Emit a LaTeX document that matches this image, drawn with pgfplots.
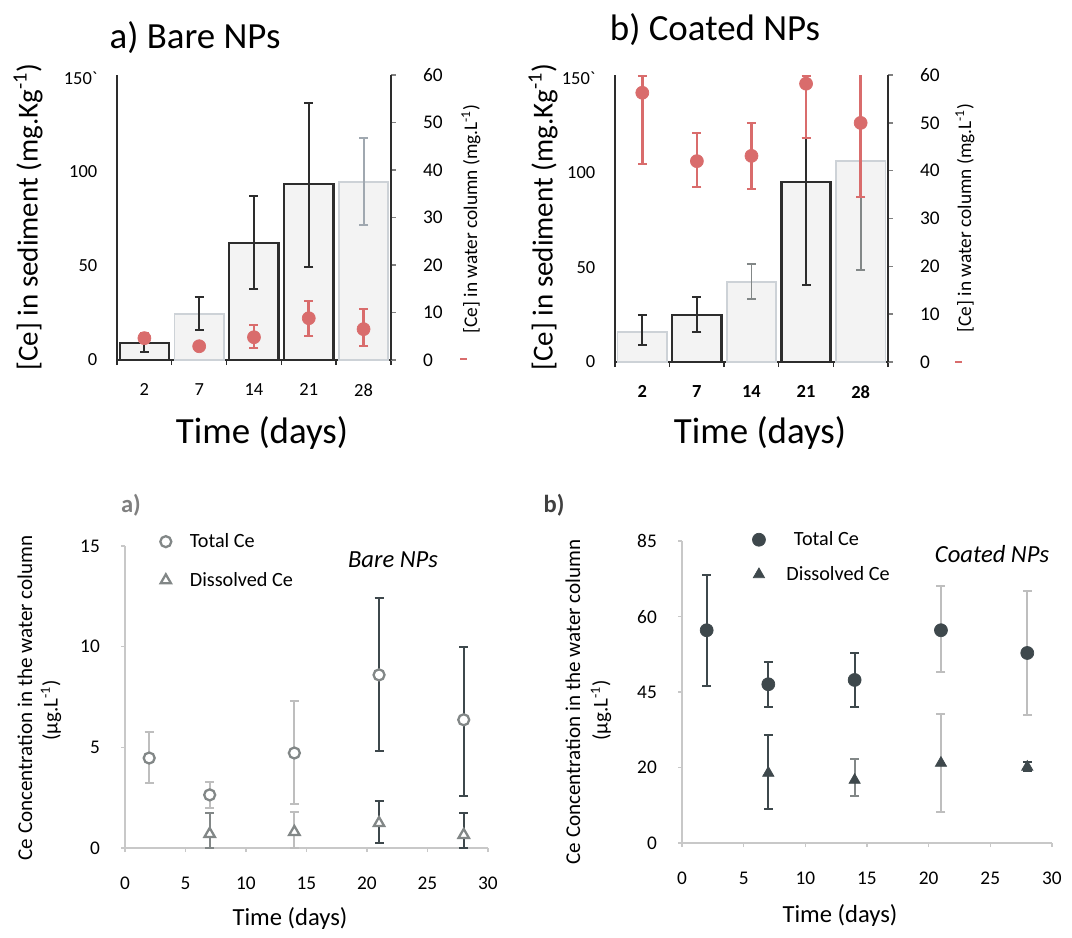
\documentclass[border=0pt]{standalone}
\usepackage{pgfplots}
\pgfplotsset{compat=1.18}
\usepackage{fontspec}
\setmainfont{Carlito}
\definecolor{redpt}{RGB}{217,108,108}
\definecolor{barfill}{RGB}{243,243,243}
\definecolor{darkln}{RGB}{45,45,45}
\definecolor{lightln}{RGB}{205,210,215}
\definecolor{errlight}{RGB}{160,168,176}
\definecolor{ptdark}{RGB}{62,72,76}
\definecolor{glight}{RGB}{190,190,190}
\definecolor{gmid}{RGB}{130,135,135}
\definecolor{axgray}{RGB}{200,200,200}
\pgfplotsset{
  topleft/.style={scale only axis, anchor=south west,
    xmin=-0.5, xmax=4.5, ymin=0, ymax=151.5,
    axis x line*=bottom, axis y line*=left,
    axis line style={darkln, line width=1.3pt},
    xtick={0,...,4}, xticklabels={2,7,14,21,28},
    major x tick style={draw=none},
    minor xtick={-0.5,0.5,1.5,2.5,3.5,4.5},
    minor x tick style={darkln, line width=0.8pt},
    minor tick length=0.1cm, tick align=outside,
    ytick={0,50,100,150}, yticklabels={0,50,100,150\textasciigrave},
    major y tick style={draw=none},
    /pgf/number format/assume math mode=true,
    yticklabel style={font=\fontsize{10.5}{12}\selectfont, xshift=-0.12cm},
    xticklabel style={font=\fontsize{10.5}{12}\selectfont, yshift=-0.2cm},
  },
  topright/.style={scale only axis, anchor=south west,
    xmin=-0.5, xmax=4.5, ymin=0, ymax=60,
    axis x line=none, axis y line*=right,
    axis line style={darkln, line width=1.3pt},
    ytick={0,10,...,60}, tick align=outside, major tick length=0.1cm,
    ytick style={gray, line width=0.8pt},
    /pgf/number format/assume math mode=true,
    yticklabel style={font=\fontsize{11}{13}\selectfont, xshift=0.42cm},
  },
  bot/.style={scale only axis, anchor=south west,
    xmin=0, xmax=30, ymin=0,
    axis x line*=bottom, axis y line*=left,
    axis line style={axgray, line width=0.8pt},
    xtick={0,5,...,30}, tick align=outside, major tick length=0.08cm,
    tick style={axgray, line width=0.8pt},
    /pgf/number format/assume math mode=true,
    xticklabel style={font=\fontsize{11}{13}\selectfont, yshift=-0.38cm},
    yticklabel style={font=\fontsize{11}{13}\selectfont, xshift=-0.3cm},
  },
  eb/.style={draw=none, mark=none, forget plot,
    error bars/.cd, y dir=both, y explicit,
    error bar style={draw=#1, line width=1.1pt},
    error mark options={draw=#1, line width=1.1pt, mark size=0.09cm, rotate=90}},
}
\begin{document}
\begin{tikzpicture}
\begin{scope}[x=0.02cm, y=-0.02cm]
\useasboundingbox (0,0) rectangle (1072,937);
\end{scope}

% ---------------- panel a (top left) ----------------
\begin{axis}[topleft, at={(117*0.02cm,-360*0.02cm)}, width=5.48cm, height=5.7cm]
\addplot[ybar, bar shift=0pt, bar width=0.9, fill=barfill, draw=darkln, line width=1.3pt]
  coordinates {(0,9.0) (2,62.2) (3,93.6)};
\addplot[ybar, bar shift=0pt, bar width=0.9, fill=barfill, draw=lightln, line width=0.8pt]
  coordinates {(1,24.5) (4,94.6)};
\addplot[eb=darkln] coordinates {
  (0,9.0) += (0,5.0) -= (0,4.5)
  (1,24.5) += (0,9.0) -= (0,8.5)
  (2,62.2) += (0,25.0) -= (0,24.5)
  (3,93.6) += (0,43.0) -= (0,44.2)};
\addplot[eb=errlight] coordinates {(4,94.6) += (0,23.4) -= (0,22.8)};
\end{axis}
\begin{axis}[topright, at={(117*0.02cm,-360*0.02cm)}, width=5.48cm, height=5.7cm]
\addplot[only marks, mark=*, mark size=0.13cm, redpt,
  error bars/.cd, y dir=both, y explicit,
  error bar style={redpt, line width=1.5pt},
  error mark options={redpt, line width=1.2pt, mark size=0.09cm, rotate=90}]
  coordinates {
  (0,4.6) += (0,1.1) -= (0,1.0)
  (1,2.9) += (0,0) -= (0,0)
  (2,4.8) += (0,2.6) -= (0,2.3)
  (3,8.8) += (0,3.6) -= (0,3.8)
  (4,6.5) += (0,4.2) -= (0,3.6)};
\end{axis}

% ---------------- panel b (top right) ----------------
\begin{axis}[topleft, at={(615*0.02cm,-362*0.02cm)}, width=5.46cm, height=5.74cm,
  xticklabel style={font=\fontsize{10.5}{12}\selectfont\bfseries}]
\addplot[ybar, bar shift=0pt, bar width=0.9, fill=barfill, draw=darkln, line width=1.3pt]
  coordinates {(1,24.8) (3,95.0)};
\addplot[ybar, bar shift=0pt, bar width=0.9, fill=barfill, draw=lightln, line width=0.8pt]
  coordinates {(0,15.8) (2,42.2) (4,106.1)};
\addplot[eb=darkln] coordinates {
  (0,15.8) += (0,9.0) -= (0,6.8)
  (1,24.8) += (0,9.5) -= (0,9.0)
  (3,95.0) += (0,23.3) -= (0,54.3)};
\addplot[eb=gmid] coordinates {
  (2,42.2) += (0,9.5) -= (0,8.9)
  (4,106.1) += (0,54.0) -= (0,57.5)};
\end{axis}
\begin{axis}[topright, at={(615*0.02cm,-362*0.02cm)}, width=5.46cm, height=5.74cm]
\addplot[only marks, mark=*, mark size=0.13cm, redpt,
  error bars/.cd, y dir=both, y explicit,
  error bar style={redpt, line width=1.5pt},
  error mark options={redpt, line width=1.2pt, mark size=0.09cm, rotate=90}]
  coordinates {
  (0,56.3) += (0,3.5) -= (0,14.9)
  (1,42.0) += (0,5.9) -= (0,5.4)
  (2,43.1) += (0,6.9) -= (0,6.9)
  (3,58.2) += (0,1.6) -= (0,11.3)
  (4,50.0) += (0,15.0) -= (0,15.5)};
\end{axis}

% ---------------- panel c (bottom left) ----------------
\begin{axis}[bot, at={(125*0.02cm,-848*0.02cm)}, width=7.26cm, height=6.04cm, ymax=15,
  ytick={0,5,10,15},
  legend style={at={(axis cs:2.6,16.0)}, anchor=north west, draw=none, fill=none,
    font=\fontsize{11.5}{13}\selectfont, row sep=0.3cm, inner sep=2pt},
  legend cell align=left]
\addplot[eb=glight] coordinates {
  (2,4.47) += (0,1.30) -= (0,1.24)
  (7,2.64) += (0,0.66) -= (0,0.64)
  (14,4.72) += (0,2.58) -= (0,2.52)
  (14,0.8) += (0,1.0) -= (0,0.8)};
\addplot[eb=gmid] coordinates {
  (7,0.7) += (0,1.02) -= (0,0.7)};
\addplot[eb=ptdark] coordinates {
  (21,8.6) += (0,3.8) -= (0,3.8)
  (28,6.37) += (0,3.63) -= (0,3.77)
  (21,1.24) += (0,1.09) -= (0,0.99)
  (28,0.65) += (0,1.07) -= (0,0.65)};
\addplot[only marks, mark=*, mark size=0.11cm, gmid, line width=1.3pt, mark options={fill=white}]
  coordinates {(2,4.47) (7,2.64) (14,4.72) (21,8.6) (28,6.37)};
\addlegendentry{\hspace{0.3cm}Total Ce}
\addplot[only marks, mark=triangle*, mark size=0.12cm, gmid, line width=1.3pt, mark options={fill=white}]
  coordinates {(7,0.7) (14,0.8) (21,1.24) (28,0.65)};
\addlegendentry{\hspace{0.3cm}Dissolved Ce}
\end{axis}

% ---------------- panel d (bottom right) ----------------
\begin{axis}[bot, at={(682*0.02cm,-843*0.02cm)}, width=7.4cm, height=6.04cm, ymax=85,
  ytick={0,21.25,42.5,63.75,85}, yticklabels={0,20,45,60,85},
  legend style={at={(axis cs:5.4,89.8)}, anchor=north west, draw=none, fill=none,
    font=\fontsize{11.5}{13}\selectfont, row sep=0.22cm, inner sep=2pt},
  legend cell align=left]
\addplot[eb=ptdark] coordinates {
  (2,59.9) += (0,15.5) -= (0,15.7)
  (7,44.7) += (0,6.2) -= (0,6.4)
  (14,45.9) += (0,7.6) -= (0,7.6)
  (7,19.7) += (0,10.7) -= (0,10.1)
  (28,21.4) += (0,1.4) -= (0,1.1)};
\addplot[eb=glight] coordinates {
  (21,59.9) += (0,12.4) -= (0,11.8)
  (28,53.5) += (0,17.4) -= (0,17.5)
  (21,22.5) += (0,13.8) -= (0,13.8)};
\addplot[eb=gmid] coordinates {
  (14,17.7) += (0,5.9) -= (0,4.5)};
\addplot[only marks, mark=*, mark size=0.13cm, ptdark]
  coordinates {(2,59.9) (7,44.7) (14,45.9) (21,59.9) (28,53.5)};
\addlegendentry{\hspace{0.5cm}Total Ce}
\addplot[only marks, mark=triangle*, mark size=0.13cm, ptdark]
  coordinates {(7,19.7) (14,17.7) (21,22.5) (28,21.4)};
\addlegendentry{\hspace{0.35cm}Dissolved Ce}
\end{axis}

\begin{scope}[x=0.02cm, y=-0.02cm]
\draw[redpt, line width=1pt] (460,359) -- (467,359);
\draw[redpt, line width=1pt] (955,362) -- (962,362);
% top titles and labels
\node[font=\fontsize{21}{25}\selectfont] at (195,38) {a) Bare NPs};
\node[font=\fontsize{21}{25}\selectfont] at (715,30) {b) Coated NPs};
\node[font=\fontsize{21}{25}\selectfont] at (262,433) {Time (days)};
\node[font=\fontsize{21}{25}\selectfont] at (760,433) {Time (days)};
\node[rotate=90, font=\fontsize{16.5}{19}\selectfont] at (28,217) {[Ce] in sediment (mg.Kg\textsuperscript{-1})};
\node[rotate=90, font=\fontsize{16.5}{19}\selectfont] at (543,217) {[Ce] in sediment (mg.Kg\textsuperscript{-1})};
\node[rotate=90, font=\fontsize{11}{13}\selectfont] at (471,219) {[Ce] in water column (mg.L\textsuperscript{-1})};
\node[rotate=90, font=\fontsize{11}{13}\selectfont] at (965,218) {[Ce] in water column (mg.L\textsuperscript{-1})};
% bottom labels
\node[font=\fontsize{14}{16}\selectfont\bfseries, text=gray] at (131,505) {a)};
\node[font=\fontsize{14}{16}\selectfont\itshape] at (393,560) {Bare NPs};
\node[rotate=90, font=\fontsize{12}{14}\selectfont] at (25,698) {Ce Concentration in the water column};
\node[rotate=90, font=\fontsize{12}{14}\selectfont] at (51,710) {(µg.L\textsuperscript{-1})};
\node[font=\fontsize{14}{16}\selectfont] at (290,918) {Time (days)};
\node[font=\fontsize{14}{16}\selectfont\bfseries, text=darkgray] at (554,505) {b)};
\node[font=\fontsize{14}{16}\selectfont\itshape] at (992,554) {Coated NPs};
\node[rotate=90, font=\fontsize{12}{14}\selectfont] at (573,702) {Ce Concentration in the water column};
\node[rotate=90, font=\fontsize{12}{14}\selectfont] at (601,710) {(µg.L\textsuperscript{-1})};
\node[font=\fontsize{14}{16}\selectfont] at (840,915) {Time (days)};
\end{scope}
\end{tikzpicture}
\end{document}
